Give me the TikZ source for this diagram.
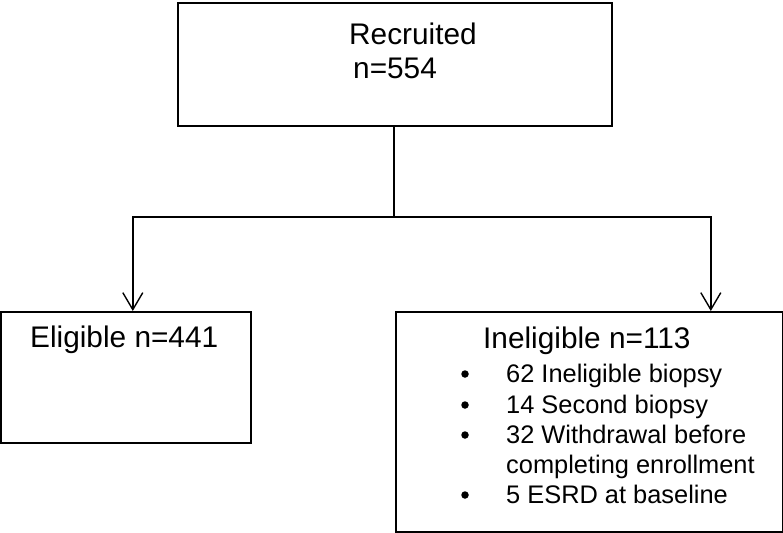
\documentclass[tikz,border=0pt]{standalone}
\usepackage{fontspec}
\setmainfont{Liberation Sans}
\usetikzlibrary{arrows.meta}
\begin{document}
\begin{tikzpicture}[x=1pt,y=-1pt,
  box/.style={draw,line width=1.6pt,inner sep=0pt,anchor=north west},
  head/.style={anchor=base west,inner sep=0pt,font=\fontsize{29.8}{34}\selectfont},
  item/.style={anchor=base west,inner sep=0pt,font=\fontsize{25.4}{30}\selectfont},
  dot/.style={circle,fill,inner sep=0pt,minimum size=7.5pt},
  conn/.style={line width=1.6pt},
  arr/.style={line width=1.6pt,-{Straight Barb[length=17pt,width=20pt,line width=1.4pt]}}]
\useasboundingbox (0,0) rectangle (783,532);
% boxes
\node[box,minimum width=434pt,minimum height=123pt] (top) at (177,2) {};
\node[box,minimum width=250pt,minimum height=131pt] (elig) at (0,311) {};
\node[box,minimum width=387pt,minimum height=220pt] (inel) at (395,311) {};
% texts
\node[head] (t1) at (349,45) {Recruited};
\node[head] (t2) at (353,79) {n=554};
\node[head] (t3) at (30,347) {Eligible n=441};
\node[head] (t4) at (483,348) {Ineligible n=113};
\node[dot] (b1) at (465,374) {};
\node[item] (i1) at (506,382) {62 Ineligible biopsy};
\node[dot] (b2) at (465,405) {};
\node[item] (i2) at (506,413) {14 Second biopsy};
\node[dot] (b3) at (465,435) {};
\node[item] (i3) at (506,443) {32 Withdrawal before};
\node[item] (i4) at (506,473) {completing enrollment};
\node[dot] (b5) at (465,495) {};
\node[item] (i5) at (506,503) {5 ESRD at baseline};
% connectors
\coordinate (j) at (394,217);
\draw[conn] (top.south -| j) -- (j);
\draw[arr] (j) -| ([xshift=7pt]elig.north);
\draw[arr] (j) -| ([xshift=121.5pt]inel.north);
\end{tikzpicture}
\end{document}
